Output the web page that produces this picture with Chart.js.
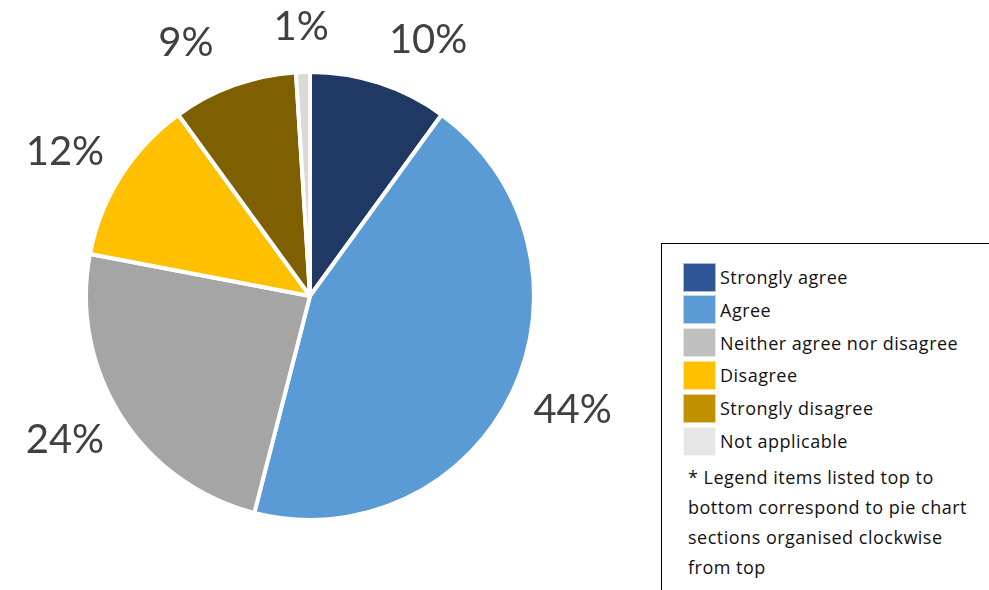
<!DOCTYPE html>
<html>
<head>
<meta charset="utf-8">
<script src="https://cdn.jsdelivr.net/npm/chart.js@4"></script>
<style>
    html, body { margin: 0; padding: 0; background: #fff; overflow: hidden; }
    #wrap { position: relative; width: 989px; height: 590px; }
    #legend-box {
        position: absolute; left: 661px; top: 243px; width: 340px; height: 360px;
        border: 1.5px solid #000; box-sizing: border-box; background: #fff;
        font-family: "Open Sans", "Lato", sans-serif; color: #111;
    }
    .row { position: absolute; left: 21px; height: 30px; display: flex; align-items: center; font-size: 18px; letter-spacing: 0.5px; }
    .sw { width: 33px; height: 29px; margin-right: 4px; box-sizing: border-box; border: 1px solid rgba(255,255,255,0.6); }
    #note { position: absolute; left: 26px; top: 218px; font-size: 18px; letter-spacing: 0.5px; line-height: 30px; white-space: nowrap; }
</style>
</head>
<body>
<div id="wrap">
    <canvas id="pie" width="989" height="590"></canvas>
    <div id="legend-box"></div>
</div>
<script>
var labels = ["Strongly agree", "Agree", "Neither agree nor disagree", "Disagree", "Strongly disagree", "Not applicable"];
var values = [10, 44, 24, 12, 9, 1];
var sliceColors = ["#1F3864", "#5B9BD5", "#A5A5A5", "#FFC000", "#7F6000", "#D9D9D9"];
var legendColors = ["#2F5597", "#5B9BD5", "#BFBFBF", "#FFC000", "#BF9000", "#E7E6E6"];
var noteLines = ["* Legend items listed top to", "bottom correspond to pie chart", "sections organised clockwise", "from top"];

// percentage labels placed just outside each slice; labels above the pie
// are spread sideways so they keep clear of one another
var outsideLabels = {
    id: "outsideLabels",
    afterDatasetsDraw: function (chart) {
        var ctx = chart.ctx;
        var meta = chart.getDatasetMeta(0);
        ctx.save();
        ctx.font = "40px Lato, 'Open Sans', sans-serif";
        ctx.fillStyle = "#404040";
        ctx.textAlign = "center";
        ctx.textBaseline = "middle";
        var items = meta.data.map(function (arc, i) {
            var mid = (arc.startAngle + arc.endAngle) / 2;
            var cos = Math.cos(mid), sin = Math.sin(mid);
            var r = arc.outerRadius + 27;
            var text = values[i] + "%";
            var w = ctx.measureText(text).width, h = 36;
            return {
                text: text, w: w, sin: sin,
                x: arc.x + cos * r + cos * w / 2,
                y: arc.y + sin * r + sin * h / 2
            };
        });
        // spread the labels sitting above the pie
        var top = items.filter(function (it) { return it.sin < -0.9; })
                       .sort(function (a, b) { return a.x - b.x; });
        var minGap = 60;
        if (top.length > 1) {
            // anchor the one nearest the vertical axis, push the others out
            var cx = meta.data[0].x;
            var k = 0;
            top.forEach(function (it, j) { if (Math.abs(it.x - cx) < Math.abs(top[k].x - cx)) k = j; });
            for (var j = k + 1; j < top.length; j++) {
                var lim = top[j - 1].x + top[j - 1].w / 2 + minGap + top[j].w / 2;
                if (top[j].x < lim) top[j].x = lim;
            }
            for (var j = k - 1; j >= 0; j--) {
                var lim2 = top[j + 1].x - top[j + 1].w / 2 - minGap - top[j].w / 2;
                if (top[j].x > lim2) top[j].x = lim2;
            }
        }
        items.forEach(function (it) { ctx.fillText(it.text, it.x, it.y); });
        ctx.restore();
    }
};

new Chart(document.getElementById("pie").getContext("2d"), {
    type: "pie",
    plugins: [outsideLabels],
    data: {
        labels: labels,
        datasets: [{
            data: values,
            backgroundColor: sliceColors,
            borderColor: "#fff",
            borderWidth: 4
        }]
    },
    options: {
        responsive: false,
        animation: false,
        layout: { padding: { left: 0, right: 369, top: 70, bottom: 68 } },
        plugins: { legend: { display: false }, tooltip: { enabled: false } }
    }
});

// legend panel on the right
var box = document.getElementById("legend-box");
labels.forEach(function (name, i) {
    var row = document.createElement("div");
    row.className = "row";
    row.style.top = (18 + i * 32.8) + "px";
    var sw = document.createElement("div");
    sw.className = "sw";
    sw.style.background = legendColors[i];
    var txt = document.createElement("span");
    txt.textContent = name;
    row.appendChild(sw);
    row.appendChild(txt);
    box.appendChild(row);
});
var note = document.createElement("div");
note.id = "note";
noteLines.forEach(function (line) {
    var d = document.createElement("div");
    d.textContent = line;
    note.appendChild(d);
});
box.appendChild(note);
</script>
</body>
</html>
